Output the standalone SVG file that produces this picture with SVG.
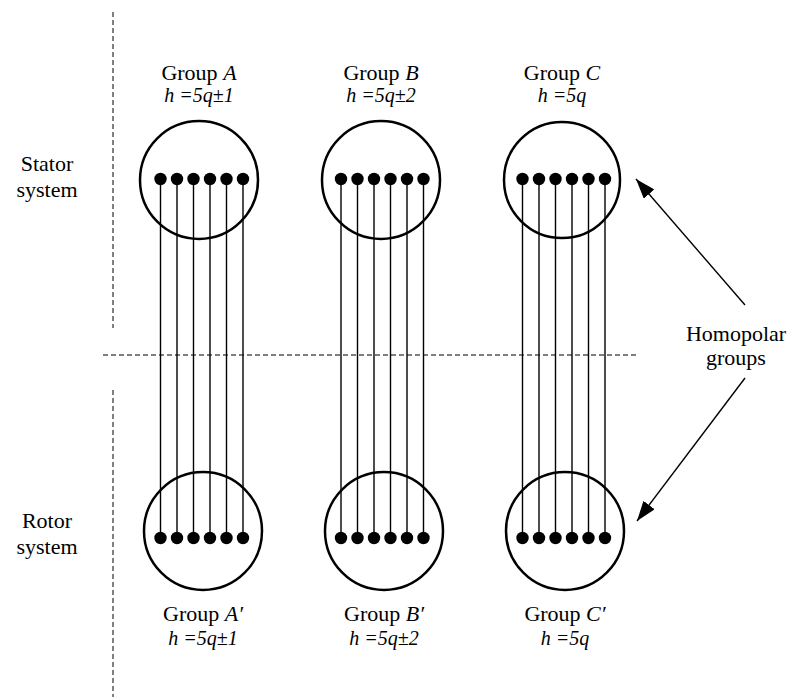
<svg xmlns="http://www.w3.org/2000/svg" width="800" height="699" viewBox="0 0 800 699">
<defs>
<marker id="ah2" viewBox="0 0 20 14" refX="20" refY="7" markerWidth="20" markerHeight="14" markerUnits="userSpaceOnUse" orient="auto"><path d="M0,0 L20,7 L0,14 z" fill="#000"/></marker>
</defs>
<rect width="800" height="699" fill="#fff"/>
<g id="dividers" stroke="#000" stroke-width="1" stroke-dasharray="5,3" fill="none">
<line x1="113" y1="12" x2="113" y2="328"/>
<line x1="113" y1="390" x2="113" y2="697"/>
<line x1="103" y1="355" x2="637" y2="355"/>
</g>
<g id="side-labels" text-anchor="middle">
<text x="47" y="171" font-family="Liberation Serif" font-size="22">Stator</text>
<text x="47" y="197" font-family="Liberation Serif" font-size="22">system</text>
<text x="47" y="528" font-family="Liberation Serif" font-size="22">Rotor</text>
<text x="47" y="554" font-family="Liberation Serif" font-size="22">system</text>
</g>
<g id="connectors" stroke="#000" stroke-width="1.4">
<g id="wires-A">
<line x1="160.5" y1="179" x2="160.5" y2="538"/>
<line x1="177" y1="179" x2="177" y2="538"/>
<line x1="193.5" y1="179" x2="193.5" y2="538"/>
<line x1="210" y1="179" x2="210" y2="538"/>
<line x1="226.5" y1="179" x2="226.5" y2="538"/>
<line x1="243" y1="179" x2="243" y2="538"/>
</g>
<g id="wires-B">
<line x1="341" y1="179" x2="341" y2="538"/>
<line x1="357.5" y1="179" x2="357.5" y2="538"/>
<line x1="374" y1="179" x2="374" y2="538"/>
<line x1="390.5" y1="179" x2="390.5" y2="538"/>
<line x1="407" y1="179" x2="407" y2="538"/>
<line x1="423.5" y1="179" x2="423.5" y2="538"/>
</g>
<g id="wires-C">
<line x1="522.5" y1="179" x2="522.5" y2="538"/>
<line x1="539" y1="179" x2="539" y2="538"/>
<line x1="555.5" y1="179" x2="555.5" y2="538"/>
<line x1="572" y1="179" x2="572" y2="538"/>
<line x1="588.5" y1="179" x2="588.5" y2="538"/>
<line x1="605" y1="179" x2="605" y2="538"/>
</g>
<line x1="745" y1="305" x2="636" y2="179" marker-end="url(#ah2)"/>
<line x1="745" y1="378" x2="637" y2="521" marker-end="url(#ah2)"/>
</g>
<g id="groupA" text-anchor="middle">
<text x="199" y="80" font-family="Liberation Serif" font-size="22">Group <tspan font-style="italic">A</tspan></text>
<text x="199" y="102" font-family="Liberation Serif" font-size="20" font-style="italic">h =5q&#177;1</text>
<circle cx="199" cy="180" r="59" fill="none" stroke="#000" stroke-width="2.5"/>
<g><circle cx="160.5" cy="179" r="6.2"/><circle cx="177" cy="179" r="6.2"/><circle cx="193.5" cy="179" r="6.2"/><circle cx="210" cy="179" r="6.2"/><circle cx="226.5" cy="179" r="6.2"/><circle cx="243" cy="179" r="6.2"/></g>
</g>
<g id="groupB" text-anchor="middle">
<text x="381" y="80" font-family="Liberation Serif" font-size="22">Group <tspan font-style="italic">B</tspan></text>
<text x="381" y="102" font-family="Liberation Serif" font-size="20" font-style="italic">h =5q&#177;2</text>
<circle cx="381" cy="180" r="59" fill="none" stroke="#000" stroke-width="2.5"/>
<g><circle cx="341" cy="179" r="6.2"/><circle cx="357.5" cy="179" r="6.2"/><circle cx="374" cy="179" r="6.2"/><circle cx="390.5" cy="179" r="6.2"/><circle cx="407" cy="179" r="6.2"/><circle cx="423.5" cy="179" r="6.2"/></g>
</g>
<g id="groupC" text-anchor="middle">
<text x="562" y="80" font-family="Liberation Serif" font-size="22">Group <tspan font-style="italic">C</tspan></text>
<text x="562" y="102" font-family="Liberation Serif" font-size="20" font-style="italic">h =5q</text>
<circle cx="562" cy="180" r="58" fill="none" stroke="#000" stroke-width="2.5"/>
<g><circle cx="522.5" cy="179" r="6.2"/><circle cx="539" cy="179" r="6.2"/><circle cx="555.5" cy="179" r="6.2"/><circle cx="572" cy="179" r="6.2"/><circle cx="588.5" cy="179" r="6.2"/><circle cx="605" cy="179" r="6.2"/></g>
</g>
<g id="groupA2" text-anchor="middle">
<circle cx="203" cy="531" r="59" fill="none" stroke="#000" stroke-width="2.5"/>
<g><circle cx="160.5" cy="538" r="6.2"/><circle cx="177" cy="538" r="6.2"/><circle cx="193.5" cy="538" r="6.2"/><circle cx="210" cy="538" r="6.2"/><circle cx="226.5" cy="538" r="6.2"/><circle cx="243" cy="538" r="6.2"/></g>
<text x="203" y="621" font-family="Liberation Serif" font-size="22">Group <tspan font-style="italic">A&#8242;</tspan></text>
<text x="203" y="645" font-family="Liberation Serif" font-size="20" font-style="italic">h =5q&#177;1</text>
</g>
<g id="groupB2" text-anchor="middle">
<circle cx="384" cy="531" r="59" fill="none" stroke="#000" stroke-width="2.5"/>
<g><circle cx="341" cy="538" r="6.2"/><circle cx="357.5" cy="538" r="6.2"/><circle cx="374" cy="538" r="6.2"/><circle cx="390.5" cy="538" r="6.2"/><circle cx="407" cy="538" r="6.2"/><circle cx="423.5" cy="538" r="6.2"/></g>
<text x="384" y="621" font-family="Liberation Serif" font-size="22">Group <tspan font-style="italic">B&#8242;</tspan></text>
<text x="384" y="645" font-family="Liberation Serif" font-size="20" font-style="italic">h =5q&#177;2</text>
</g>
<g id="groupC2" text-anchor="middle">
<circle cx="565" cy="531" r="59" fill="none" stroke="#000" stroke-width="2.5"/>
<g><circle cx="522.5" cy="538" r="6.2"/><circle cx="539" cy="538" r="6.2"/><circle cx="555.5" cy="538" r="6.2"/><circle cx="572" cy="538" r="6.2"/><circle cx="588.5" cy="538" r="6.2"/><circle cx="605" cy="538" r="6.2"/></g>
<text x="565" y="621" font-family="Liberation Serif" font-size="22">Group <tspan font-style="italic">C&#8242;</tspan></text>
<text x="565" y="645" font-family="Liberation Serif" font-size="20" font-style="italic">h =5q</text>
</g>
<g id="homopolar" text-anchor="middle">
<text x="736" y="341" font-family="Liberation Serif" font-size="22">Homopolar</text>
<text x="736" y="365" font-family="Liberation Serif" font-size="22">groups</text>
</g>
</svg>
